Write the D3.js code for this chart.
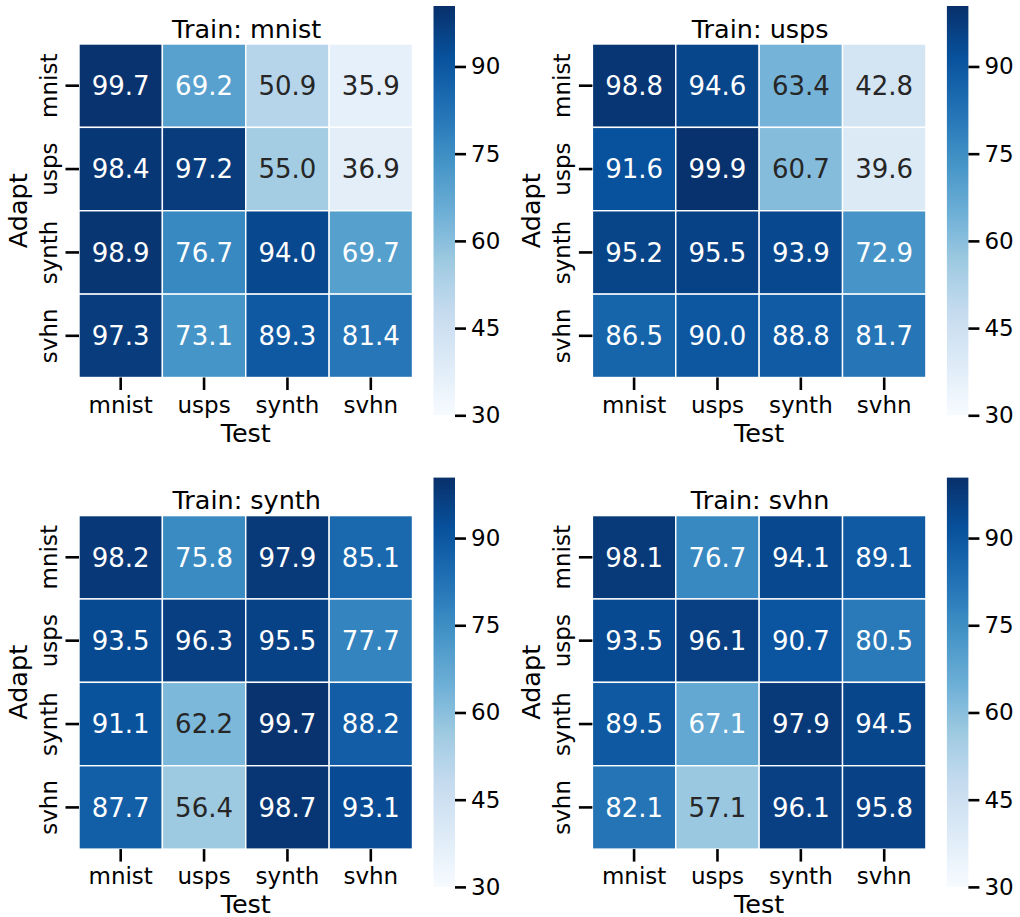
<!DOCTYPE html>
<html>
<head>
<meta charset="utf-8">
<script src="https://cdn.jsdelivr.net/npm/d3@7"></script>
<style>
  html, body { margin: 0; padding: 0; background: #ffffff; }
  svg { display: block; font-family: "DejaVu Sans", sans-serif; }
</style>
</head>
<body>
<svg id="chart" width="1020" height="917"></svg>
<script>
// Dataset names used for both axes (Test along x, Adapt along y)
const domains = ["mnist", "usps", "synth", "svhn"];

// Accuracy (%) per training set; rows = Adapt, columns = Test
const trainMnist = [
  [99.7, 69.2, 50.9, 35.9],
  [98.4, 97.2, 55.0, 36.9],
  [98.9, 76.7, 94.0, 69.7],
  [97.3, 73.1, 89.3, 81.4]
];
const trainUsps = [
  [98.8, 94.6, 63.4, 42.8],
  [91.6, 99.9, 60.7, 39.6],
  [95.2, 95.5, 93.9, 72.9],
  [86.5, 90.0, 88.8, 81.7]
];
const trainSynth = [
  [98.2, 75.8, 97.9, 85.1],
  [93.5, 96.3, 95.5, 77.7],
  [91.1, 62.2, 99.7, 88.2],
  [87.7, 56.4, 98.7, 93.1]
];
const trainSvhn = [
  [98.1, 76.7, 94.1, 89.1],
  [93.5, 96.1, 90.7, 80.5],
  [89.5, 67.1, 97.9, 94.5],
  [82.1, 57.1, 96.1, 95.8]
];
const trainNames = ["mnist", "usps", "synth", "svhn"];
const colorbarTicks = [30, 45, 60, 75, 90];
const colorMin = 30;
const colorMax = 100.4;

// Matplotlib "Blues": linear interpolation between the 9 ColorBrewer stops
const bluesStops = ["#f7fbff", "#deebf7", "#c6dbef", "#9ecae1", "#6baed6",
                    "#4292c6", "#2171b5", "#08519c", "#08306b"];
const blues = d3.piecewise(d3.interpolateRgb, bluesStops);
const color = d3.scaleSequential(blues).domain([colorMin, colorMax]);

// Pick light or dark annotation text from the cell's relative luminance
function textColorFor(fill) {
  const c = d3.rgb(fill);
  const lin = v => {
    v /= 255;
    return v <= 0.03928 ? v / 12.92 : Math.pow((v + 0.055) / 1.055, 2.4);
  };
  const lum = 0.2126 * lin(c.r) + 0.7152 * lin(c.g) + 0.0722 * lin(c.b);
  return lum > 0.408 ? "#262626" : "#ffffff";
}

const panels = [
  { name: trainNames[0], values: trainMnist, col: 0, row: 0 },
  { name: trainNames[1], values: trainUsps,  col: 1, row: 0 },
  { name: trainNames[2], values: trainSynth, col: 0, row: 1 },
  { name: trainNames[3], values: trainSvhn,  col: 1, row: 1 }
];

// Layout of a single panel (relative to its own origin)
const heatX = 79, heatY = 44, heatSize = 333.5;
const colShift = 513.4, rowShift = 471.6;
const cbX = 433.5, cbW = 21.5, cbTop = 6, cbBottom = 415.3;
const tickFont = 23, labelFont = 25.5, annotFont = 26;

const svg = d3.select("#chart");

// Gradient shared by all colorbars (bottom = colorMin, top = colorMax)
const defs = svg.append("defs");
const grad = defs.append("linearGradient")
  .attr("id", "bluesGrad")
  .attr("x1", 0).attr("y1", 1).attr("x2", 0).attr("y2", 0);
d3.range(0, 1.0001, 1 / 32).forEach(t => {
  grad.append("stop")
    .attr("offset", t)
    .attr("stop-color", color(colorMin + t * (colorMax - colorMin)));
});

const x = d3.scaleBand().domain(domains).range([0, heatSize]);
const y = d3.scaleBand().domain(domains).range([0, heatSize]);
const cbScale = d3.scaleLinear().domain([colorMin, colorMax]).range([cbBottom, cbTop]);

panels.forEach(p => {
  const g = svg.append("g")
    .attr("transform", `translate(${p.col * colShift},${p.row * rowShift})`);

  const cells = [];
  p.values.forEach((row, i) => row.forEach((v, j) => {
    cells.push({ adapt: domains[i], test: domains[j], value: v });
  }));

  const heat = g.append("g").attr("transform", `translate(${heatX},${heatY})`);

  heat.selectAll("rect.cell")
    .data(cells)
    .join("rect")
    .attr("class", "cell")
    .attr("x", d => x(d.test))
    .attr("y", d => y(d.adapt))
    .attr("width", x.bandwidth())
    .attr("height", y.bandwidth())
    .attr("fill", d => color(d.value))
    .attr("stroke", "#ffffff")
    .attr("stroke-width", 1.4);

  heat.selectAll("text.annot")
    .data(cells)
    .join("text")
    .attr("class", "annot")
    .attr("x", d => x(d.test) + x.bandwidth() / 2)
    .attr("y", d => y(d.adapt) + y.bandwidth() / 2)
    .attr("text-anchor", "middle")
    .attr("dy", "0.36em")
    .attr("font-size", annotFont)
    .attr("fill", d => textColorFor(color(d.value)))
    .text(d => d3.format(".1f")(d.value));

  // Bottom axis (Test)
  const xAxis = heat.append("g")
    .attr("transform", `translate(0,${heatSize})`)
    .call(d3.axisBottom(x).tickSize(12.5).tickPadding(7));
  xAxis.select(".domain").remove();
  xAxis.selectAll(".tick line").attr("stroke", "#000").attr("stroke-width", 2.6);
  xAxis.selectAll(".tick text")
    .attr("font-size", tickFont)
    .attr("font-family", "DejaVu Sans, sans-serif")
    .attr("fill", "#000")
    .attr("y", 0)
    .attr("dy", 0)
    .attr("transform", "translate(0,35.3)")
    .style("dominant-baseline", "alphabetic");

  // Left axis (Adapt), labels rotated to read upwards
  const yAxis = heat.append("g")
    .call(d3.axisLeft(y).tickSize(13.5));
  yAxis.select(".domain").remove();
  yAxis.selectAll(".tick line").attr("stroke", "#000").attr("stroke-width", 2.6);
  yAxis.selectAll(".tick text")
    .attr("font-size", tickFont)
    .attr("font-family", "DejaVu Sans, sans-serif")
    .attr("fill", "#000")
    .attr("x", 0)
    .attr("dy", 0)
    .attr("text-anchor", "middle")
    .attr("transform", "translate(-22.5,0) rotate(-90)");

  // Titles
  g.append("text")
    .attr("x", heatX + heatSize / 2 + 1)
    .attr("y", 37.7)
    .attr("text-anchor", "middle")
    .attr("font-size", labelFont)
    .attr("fill", "#000")
    .text("Train: " + p.name);

  g.append("text")
    .attr("x", heatX + heatSize / 2)
    .attr("y", 441.5)
    .attr("text-anchor", "middle")
    .attr("font-size", labelFont)
    .attr("fill", "#000")
    .text("Test");

  g.append("text")
    .attr("transform", `translate(27,${heatY + heatSize / 2}) rotate(-90)`)
    .attr("text-anchor", "middle")
    .attr("font-size", labelFont)
    .attr("fill", "#000")
    .text("Adapt");

  // Colorbar
  const cb = g.append("g");
  cb.append("rect")
    .attr("x", cbX)
    .attr("y", cbTop)
    .attr("width", cbW)
    .attr("height", cbBottom - cbTop)
    .attr("fill", "url(#bluesGrad)");

  const cbAxis = cb.append("g")
    .attr("transform", `translate(${cbX + cbW},0)`)
    .call(d3.axisRight(cbScale).tickValues(colorbarTicks).tickSize(11).tickPadding(5));
  cbAxis.select(".domain").remove();
  cbAxis.selectAll(".tick line").attr("stroke", "#000").attr("stroke-width", 2.6);
  cbAxis.selectAll(".tick text")
    .attr("font-size", tickFont)
    .attr("font-family", "DejaVu Sans, sans-serif")
    .attr("fill", "#000");
});
</script>
</body>
</html>
